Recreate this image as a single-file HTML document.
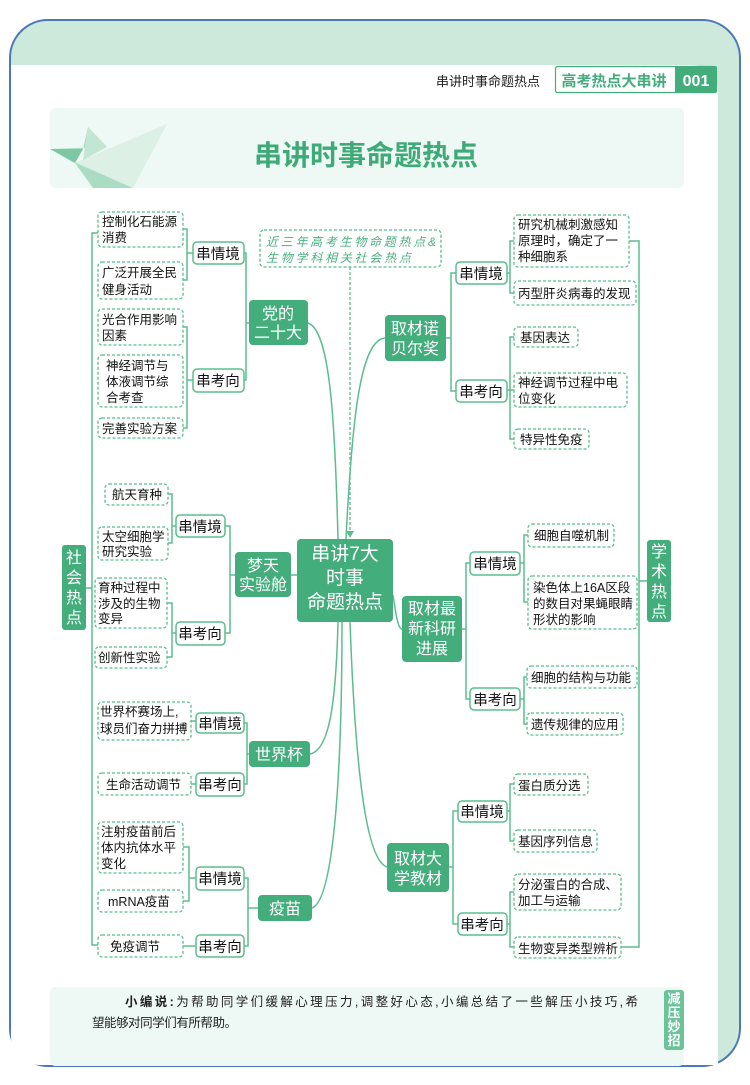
<!DOCTYPE html>
<html><head><meta charset="utf-8"><style>
html,body{margin:0;padding:0;background:#fff;}
svg text{font-family:"Liberation Sans","Noto Sans CJK SC",sans-serif;}
</style></head><body>
<svg width="750" height="1080" viewBox="0 0 750 1080" xmlns="http://www.w3.org/2000/svg">
<!-- frame -->
<rect x="10" y="20" width="730" height="1046" rx="38" fill="#cde9dc" stroke="#4a78b8" stroke-width="2"/>
<path d="M11 65 H690 Q718 65 718 95 V1065 H40 Q11 1065 11 1036 Z" fill="#fff"/>
<!-- header -->
<text x="488" y="86" font-size="13" text-anchor="middle" fill="#222">串讲时事命题热点</text>
<rect x="555.5" y="66.5" width="161" height="26" rx="2" fill="#fff" stroke="#43ad7c" stroke-width="1.2"/>
<rect x="675" y="66.5" width="42" height="26" fill="#43ad7c"/>
<text x="614" y="86" font-size="15" font-weight="bold" text-anchor="middle" fill="#43ad7c">高考热点大串讲</text>
<text x="696" y="86" font-size="16" font-weight="bold" text-anchor="middle" fill="#fff">001</text>
<!-- title banner -->
<rect x="50" y="108" width="634" height="80" rx="5" fill="#eef8f4"/>
<polygon points="50,149 83,149 88,127 107,147" fill="#a9dcc3"/>
<polygon points="50,149 83,149 75,163" fill="#7cc8a3"/>
<polygon points="75,163 167,124 133,188" fill="#dcf0e6"/>
<polygon points="58,155 75,163 93,188 133,188" fill="#a9dcc3"/>
<polygon points="88,127 107,147 83,160" fill="#c3e6d4"/>
<text x="366" y="165" font-size="28" font-weight="bold" text-anchor="middle" fill="#3daa78">串讲时事命题热点</text>
<!-- bottom box -->
<rect x="50" y="987" width="634" height="79" rx="5" fill="#eef8f4"/>
<text x="125" y="1006" font-size="12.5" fill="#222" textLength="513" lengthAdjust="spacing" font-family="Liberation Serif,Noto Serif CJK SC,serif"><tspan font-weight="bold">小编说:</tspan>为帮助同学们缓解心理压力,调整好心态,小编总结了一些解压小技巧,希</text>
<text x="92" y="1027" font-size="12.5" fill="#222" textLength="145" lengthAdjust="spacing" font-family="Liberation Serif,Noto Serif CJK SC,serif">望能够对同学们有所帮助。</text>
<rect x="664" y="990" width="20" height="60" rx="3" fill="#6cc39a"/>
<text x="674" y="1003" font-size="13" font-weight="bold" fill="#fff" text-anchor="middle">减</text>
<text x="674" y="1017" font-size="13" font-weight="bold" fill="#fff" text-anchor="middle">压</text>
<text x="674" y="1031" font-size="13" font-weight="bold" fill="#fff" text-anchor="middle">妙</text>
<text x="674" y="1045" font-size="13" font-weight="bold" fill="#fff" text-anchor="middle">招</text>

<g fill="none" stroke="#5bbd8f" stroke-width="1.5">
<path d="M98 233 H92 V945 H98"/>
<path d="M86 588 H92"/>
<path d="M629 241 H639 V947 H621"/>
<path d="M639 581 H647"/>
<path d="M183 229 H187 V280 H183 M187 253 H193"/>
<path d="M183 327 H187 V428 H183 M187 380 H193"/>
<path d="M244 253 H246 V380 H244 M246 323 H249"/>
<path d="M168 494 H172 V543 H168 M172 526 H176"/>
<path d="M167 603 H172 V657 H167 M172 633 H176"/>
<path d="M225 526 H230 V633 H225 M230 575 H235"/>
<path d="M291 575 H297"/>
<path d="M191 721 H196"/>
<path d="M191 784 H196"/>
<path d="M244 723 H247 V784 H244 M247 754 H249"/>
<path d="M183 847 H189 V901 H183 M189 878 H196"/>
<path d="M183 946 H196"/>
<path d="M244 878 H248 V946 H244 M248 908 H258"/>
<path d="M514 241 H510 V293 H514 M510 273 H507"/>
<path d="M514 337 H510 V439 H514 M510 390 H507 M510 390 H514"/>
<path d="M456 273 H451 V391 H456 M451 338 H446"/>
<path d="M528 535 H524 V602 H528 M524 563 H520"/>
<path d="M527 677 H524 V724 H527 M524 699 H520"/>
<path d="M470 563 H466 V699 H470 M466 629 H462"/>
<path d="M514 784 H510 V841 H514 M510 811 H507"/>
<path d="M514 892 H510 V947 H514 M510 924 H507"/>
<path d="M458 811 H453 V924 H458 M453 867 H449"/>
<path d="M338 539 C335 420 330 330 308 323"/>
<path d="M346 539 C352 420 360 340 385 338"/>
<path d="M338 622 C336 700 330 750 310 754"/>
<path d="M342 622 C342 760 335 900 312 908"/>
<path d="M350 622 C355 760 365 860 387 867"/>
<path d="M393 595 C396 615 398 629 402 629"/>
</g>
<path d="M350 267 V532" stroke="#5bbd8f" stroke-width="1.3" stroke-dasharray="3,2" fill="none"/>
<polygon points="346,531 354,531 350,538" fill="#5bbd8f"/>
<rect x="260" y="230" width="181" height="37" rx="4" fill="#fff" stroke="#5bbd8f" stroke-width="1.3" stroke-dasharray="3,2"/>
<text x="266" y="246" font-size="12" fill="#4caf80" font-style="italic" textLength="170" lengthAdjust="spacing" font-family="Liberation Serif,Noto Serif CJK SC,serif">近三年高考生物命题热点&amp;</text>
<text x="266" y="262" font-size="12" fill="#4caf80" font-style="italic" textLength="145" lengthAdjust="spacing" font-family="Liberation Serif,Noto Serif CJK SC,serif">生物学科相关社会热点</text>

<g fill="#43ad7c">
<rect x="62" y="545" width="24" height="85" rx="3"/>
<rect x="647" y="540" width="24" height="82" rx="3"/>
<rect x="297" y="539" width="96" height="83" rx="4"/>
<rect x="249" y="300" width="59" height="45" rx="4"/>
<rect x="235" y="552" width="56" height="45" rx="4"/>
<rect x="249" y="741" width="61" height="26" rx="4"/>
<rect x="258" y="895" width="54" height="26" rx="4"/>
<rect x="385" y="315" width="61" height="46" rx="4"/>
<rect x="402" y="596" width="60" height="66" rx="4"/>
<rect x="387" y="843" width="62" height="49" rx="4"/>
</g>
<g fill="#fff" font-size="16" text-anchor="middle">
<text x="74" y="563">社</text><text x="74" y="583">会</text><text x="74" y="603">热</text><text x="74" y="623">点</text>
<text x="659" y="557">学</text><text x="659" y="577">术</text><text x="659" y="597">热</text><text x="659" y="617">点</text>
<text x="345" y="560" font-size="19">串讲7大</text><text x="345" y="584" font-size="19">时事</text><text x="345" y="608" font-size="19">命题热点</text>
<text x="278" y="319">党的</text><text x="278" y="338">二十大</text>
<text x="263" y="571">梦天</text><text x="263" y="590">实验舱</text>
<text x="279" y="760">世界杯</text>
<text x="285" y="914">疫苗</text>
<text x="415" y="334">取材诺</text><text x="415" y="354">贝尔奖</text>
<text x="432" y="614">取材最</text><text x="432" y="634">新科研</text><text x="432" y="654">进展</text>
<text x="418" y="864">取材大</text><text x="418" y="884">学教材</text>
</g>

<g fill="#fff" stroke="#5bbd8f" stroke-width="1.5">
<rect x="193" y="242" width="51" height="22" rx="4"/>
<rect x="193" y="369" width="51" height="23" rx="4"/>
<rect x="176" y="515" width="49" height="22" rx="4"/>
<rect x="176" y="622" width="49" height="23" rx="4"/>
<rect x="196" y="713" width="48" height="20" rx="4"/>
<rect x="196" y="773" width="48" height="23" rx="4"/>
<rect x="196" y="867" width="48" height="23" rx="4"/>
<rect x="196" y="935" width="48" height="22" rx="4"/>
<rect x="456" y="262" width="51" height="22" rx="4"/>
<rect x="456" y="380" width="51" height="22" rx="4"/>
<rect x="470" y="552" width="50" height="23" rx="4"/>
<rect x="470" y="688" width="50" height="22" rx="4"/>
<rect x="458" y="801" width="49" height="21" rx="4"/>
<rect x="458" y="913" width="49" height="22" rx="4"/>
</g>
<g fill="#111" font-size="14.5" text-anchor="middle">
<text x="218" y="259">串情境</text><text x="218" y="386">串考向</text>
<text x="200" y="532">串情境</text><text x="200" y="639">串考向</text>
<text x="220" y="729">串情境</text><text x="220" y="790">串考向</text>
<text x="220" y="884">串情境</text><text x="220" y="952">串考向</text>
<text x="481" y="279">串情境</text><text x="481" y="397">串考向</text>
<text x="495" y="569">串情境</text><text x="495" y="705">串考向</text>
<text x="482" y="817">串情境</text><text x="482" y="930">串考向</text>
</g>

<g fill="#fff" stroke="#5bbd8f" stroke-width="1.3" stroke-dasharray="3,2">
<rect x="98" y="212" width="85" height="35" rx="4"/>
<rect x="98" y="262" width="85" height="37" rx="4"/>
<rect x="98" y="309" width="85" height="36" rx="4"/>
<rect x="98" y="355" width="85" height="52" rx="4"/>
<rect x="98" y="418" width="85" height="20" rx="4"/>
<rect x="105" y="484" width="63" height="21" rx="4"/>
<rect x="98" y="527" width="70" height="33" rx="4"/>
<rect x="95" y="578" width="72" height="50" rx="4"/>
<rect x="95" y="647" width="72" height="21" rx="4"/>
<rect x="98" y="702" width="93" height="38" rx="4"/>
<rect x="98" y="773" width="93" height="22" rx="4"/>
<rect x="98" y="822" width="85" height="51" rx="4"/>
<rect x="98" y="890" width="85" height="22" rx="4"/>
<rect x="98" y="935" width="85" height="22" rx="4"/>
<rect x="514" y="215" width="115" height="52" rx="4"/>
<rect x="514" y="281" width="122" height="24" rx="4"/>
<rect x="514" y="327" width="64" height="20" rx="4"/>
<rect x="514" y="373" width="113" height="34" rx="4"/>
<rect x="514" y="429" width="75" height="20" rx="4"/>
<rect x="528" y="524" width="86" height="23" rx="4"/>
<rect x="528" y="576" width="109" height="53" rx="4"/>
<rect x="527" y="666" width="110" height="22" rx="4"/>
<rect x="527" y="713" width="96" height="22" rx="4"/>
<rect x="514" y="774" width="74" height="21" rx="4"/>
<rect x="514" y="830" width="83" height="22" rx="4"/>
<rect x="514" y="874" width="107" height="36" rx="4"/>
<rect x="514" y="937" width="107" height="21" rx="4"/>
</g>
<g fill="#111" font-size="12.5">
<text x="102" y="226">控制化石能源</text><text x="102" y="242">消费</text>
<text x="102" y="277">广泛开展全民</text><text x="102" y="294">健身活动</text>
<text x="102" y="324">光合作用影响</text><text x="102" y="340">因素</text>
<text x="106" y="370">神经调节与</text><text x="106" y="386">体液调节综</text><text x="106" y="402">合考查</text>
<text x="102" y="433">完善实验方案</text>
<text x="112" y="499">航天育种</text>
<text x="102" y="541">太空细胞学</text><text x="102" y="556">研究实验</text>
<text x="98" y="592">育种过程中</text><text x="98" y="608">涉及的生物</text><text x="98" y="623">变异</text>
<text x="98" y="662">创新性实验</text>
<text x="100" y="716">世界杯赛场上,</text><text x="100" y="733">球员们奋力拼搏</text>
<text x="106" y="789">生命活动调节</text>
<text x="101" y="836">注射疫苗前后</text><text x="101" y="852">体内抗体水平</text><text x="101" y="868">变化</text>
<text x="108" y="906">mRNA疫苗</text>
<text x="110" y="951">免疫调节</text>
<text x="518" y="229">研究机械刺激感知</text><text x="518" y="245">原理时，确定了一</text><text x="518" y="261">种细胞系</text>
<text x="518" y="298">丙型肝炎病毒的发现</text>
<text x="520" y="342">基因表达</text>
<text x="518" y="387">神经调节过程中电</text><text x="518" y="403">位变化</text>
<text x="520" y="444">特异性免疫</text>
<text x="534" y="540">细胞自噬机制</text>
<text x="533" y="592">染色体上16A区段</text><text x="533" y="608">的数目对果蝇眼睛</text><text x="533" y="624">形状的影响</text>
<text x="531" y="682">细胞的结构与功能</text>
<text x="531" y="729">遗传规律的应用</text>
<text x="518" y="790">蛋白质分选</text>
<text x="518" y="846">基因序列信息</text>
<text x="518" y="889">分泌蛋白的合成、</text><text x="518" y="905">加工与运输</text>
<text x="518" y="953">生物变异类型辨析</text>
</g>
</svg>
</body></html>
